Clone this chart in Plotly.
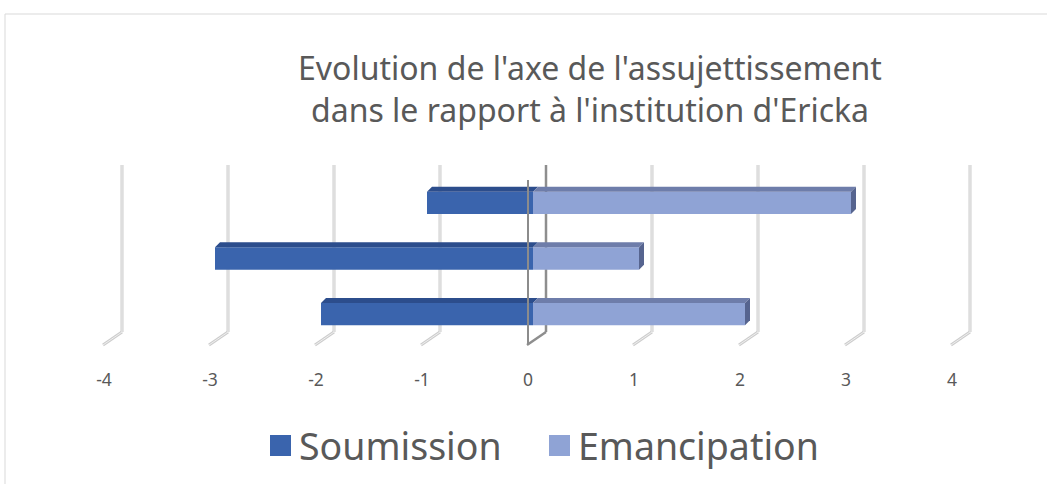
import plotly.graph_objects as go

# ---- data ----
categories = ["Temps 1", "Temps 2", "Temps 3"]   # bottom to top
soumission = [-2, -3, -1]
emancipation = [2, 1, 3]
x_ticks = [-4, -3, -2, -1, 0, 1, 2, 3, 4]
series_names = ["Soumission", "Emancipation"]

# ---- geometry / style ----
W, H = 1047, 484
L, R, T, B = 56, 37, 175, 142
PW, PH = W - L - R, H - T - B
X_RANGE = [-4.5, 4.5]
Y_RANGE = [-0.5, len(categories) - 0.5]
BAR_W = 0.4
DEPTH = 5                       # pixel depth of the 3D faces
px_per_x = PW / (X_RANGE[1] - X_RANGE[0])
px_per_y = PH / (Y_RANGE[1] - Y_RANGE[0])
dx_data = DEPTH / px_per_x
bar_px = BAR_W * px_per_y

FONT = "Noto Sans"
TXT = "#595959"
C_SOU, C_SOU_TOP = "#3A64AD", "#2C4D8C"
C_EMA, C_EMA_TOP, C_EMA_SIDE = "#8FA3D5", "#6E7DAA", "#56648F"


def px_x(px):
    return (px - L) / PW


def px_y(py):
    return (H - B - py) / PH


fig = go.Figure()
fig.add_trace(go.Bar(y=categories, x=soumission, orientation="h", name=series_names[0],
                     width=BAR_W, marker=dict(color=C_SOU, line=dict(width=0))))
fig.add_trace(go.Bar(y=categories, x=emancipation, orientation="h", name=series_names[1],
                     width=BAR_W, marker=dict(color=C_EMA, line=dict(width=0))))

shapes = []

# back-wall gridlines with their floor return
for t in x_ticks:
    col = "#8E8E8E" if t == 0 else "#CDCDCD"
    for w, c in ([(2.5, col)] if t == 0 else [(3, col), (1, "#EFEFEF")]):
        common = dict(type="line", xref="x", yref="paper", xsizemode="pixel",
                      xanchor=t, layer="below", line=dict(color=c, width=w))
        shapes.append(dict(common, x0=13, x1=13, y0=px_y(332), y1=px_y(165)))
        shapes.append(dict(common, x0=13, x1=-6, y0=px_y(332), y1=px_y(345)))

# top and side faces of the bars
for i in range(len(categories)):
    top = i + BAR_W / 2
    bottom = i - BAR_W / 2
    for a, b, col in ((soumission[i], 0, C_SOU_TOP), (0, emancipation[i], C_EMA_TOP)):
        path = f"M {a},0 L {b},0 L {b + dx_data},{DEPTH} L {a + dx_data},{DEPTH} Z"
        shapes.append(dict(type="path", xref="x", yref="y", ysizemode="pixel", yanchor=top,
                           path=path, fillcolor=col, line=dict(width=0), layer="above"))
    e = emancipation[i]
    path = (f"M {e},0 L {e + dx_data},{DEPTH} L {e + dx_data},{DEPTH + bar_px} "
            f"L {e},{bar_px} Z")
    shapes.append(dict(type="path", xref="x", yref="y", ysizemode="pixel", yanchor=bottom,
                       path=path, fillcolor=C_EMA_SIDE, line=dict(width=0), layer="above"))

# front vertical axis at zero
shapes.append(dict(type="line", xref="x", yref="paper", xsizemode="pixel",
                   xanchor=0, x0=-5, x1=-5, y0=px_y(345), y1=px_y(180),
                   layer="above", line=dict(color="#8C8C8C", width=2)))

# chart frame
shapes.append(dict(type="rect", xref="paper", yref="paper", x0=px_x(5), x1=px_x(W + 10),
                   y0=px_y(14), y1=px_y(H + 10), line=dict(color="#D9D9D9", width=1),
                   fillcolor="rgba(0,0,0,0)", layer="below"))

# legend
annotations = []
legend_items = [(series_names[0], C_SOU, 270), (series_names[1], C_EMA, 549)]
for name, col, x in legend_items:
    shapes.append(dict(type="rect", xref="paper", yref="paper", x0=px_x(x), x1=px_x(x + 21),
                       y0=px_y(456), y1=px_y(435), fillcolor=col, line=dict(width=0)))
    annotations.append(dict(text=name, xref="paper", yref="paper", x=px_x(x + 27), y=px_y(445),
                            xanchor="left", yanchor="middle", showarrow=False,
                            font=dict(family=FONT, size=37.5, color=TXT)))

# title, two lines
for line, yc in (("Evolution de l'axe de l'assujettissement", 67),
                 ("dans le rapport à l'institution d'Ericka", 110)):
    annotations.append(dict(text=line, xref="paper", yref="paper", x=px_x(590), y=px_y(yc),
                            xanchor="center", yanchor="middle", showarrow=False,
                            font=dict(family=FONT, size=32, color=TXT)))

fig.update_layout(
    width=W, height=H, margin=dict(l=L, r=R, t=T, b=B, autoexpand=False),
    paper_bgcolor="white", plot_bgcolor="rgba(0,0,0,0)",
    barmode="relative", bargap=0.6, showlegend=False,
    shapes=shapes, annotations=annotations,
    font=dict(family=FONT, color=TXT),
    xaxis=dict(range=X_RANGE, tickvals=x_ticks, ticktext=[str(t) for t in x_ticks],
               showgrid=False, zeroline=False, showline=False, ticks="",
               ticklabelstandoff=25, ticklabelshift=-5,
               tickfont=dict(family=FONT, size=17.5, color=TXT)),
    yaxis=dict(range=Y_RANGE, showgrid=False, zeroline=False, showline=False,
               showticklabels=False, ticks=""),
)

fig.write_html("out.html")
